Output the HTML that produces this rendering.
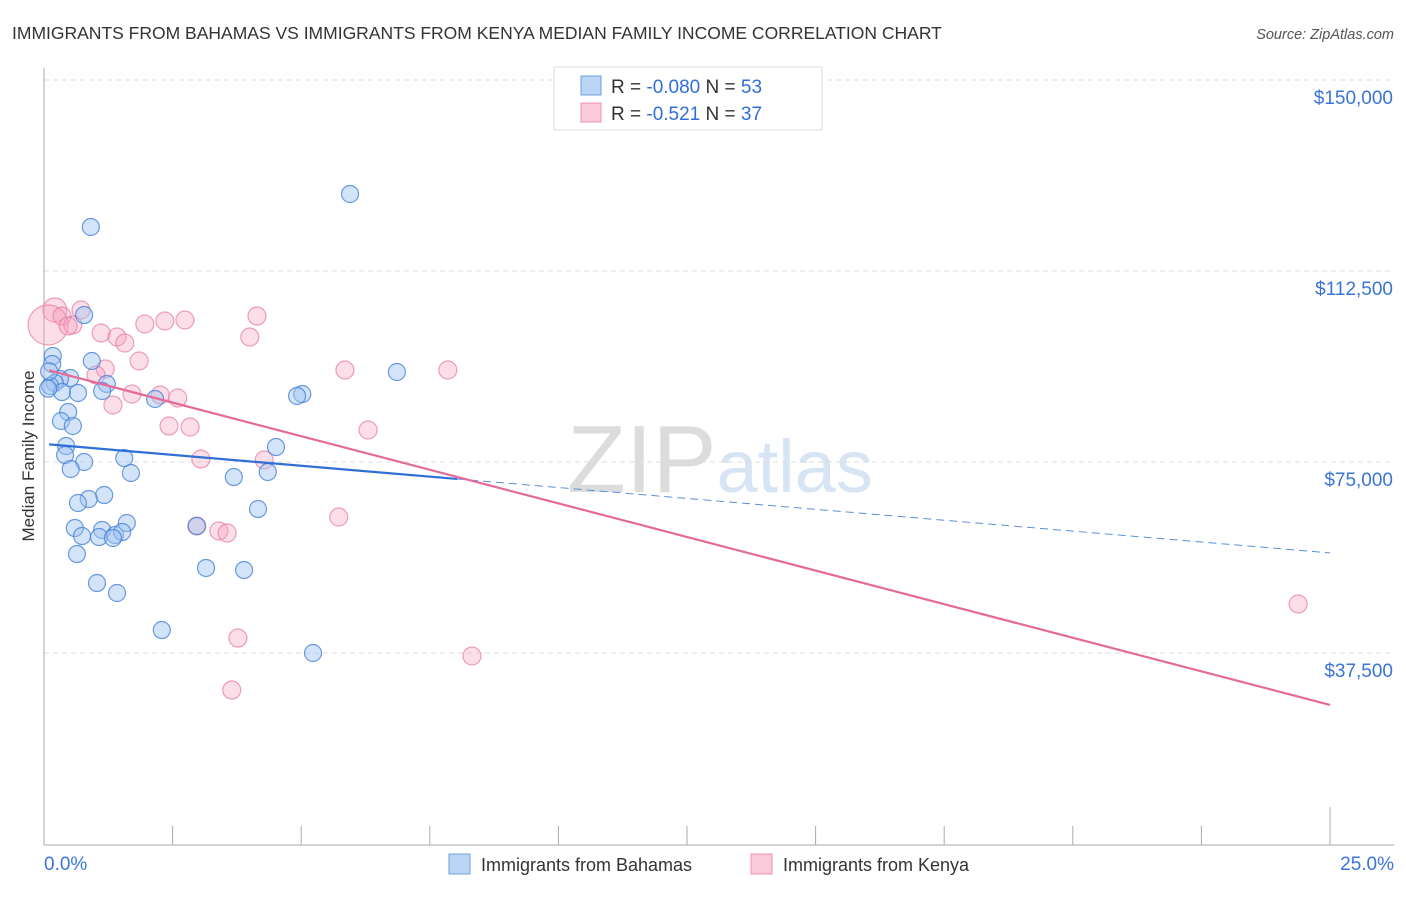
<!DOCTYPE html>
<html><head><meta charset="utf-8">
<style>
body{margin:0;background:#fff;font-family:"Liberation Sans",sans-serif;}
svg text{font-family:"Liberation Sans",sans-serif;}
</style></head>
<body>
<svg id="chart" width="1406" height="892" xmlns="http://www.w3.org/2000/svg">
<text x="12" y="39" font-size="17.5" fill="#333">IMMIGRANTS FROM BAHAMAS VS IMMIGRANTS FROM KENYA MEDIAN FAMILY INCOME CORRELATION CHART</text>
<text x="1394" y="39" font-size="14.5" fill="#555" font-style="italic" text-anchor="end">Source: ZipAtlas.com</text>
<text x="720" y="492" font-size="96" fill="#e4e4e4" text-anchor="middle" font-family="Liberation Serif"><tspan fill="#dcdcdc">ZIP</tspan><tspan fill="#d6e4f4" font-family="Liberation Sans" font-size="74">atlas</tspan></text>
<g id="grid"></g>
<g id="axes"></g>
<g id="points"></g>
<g id="trends"></g>
<text transform="translate(34,456) rotate(-90)" font-size="17" fill="#333" text-anchor="middle">Median Family Income</text>
<g>
<rect x="554" y="67" width="268" height="63" fill="#fff" stroke="#ddd"/>
<rect x="581" y="76" width="20" height="19" fill="#bcd5f5" stroke="#6d9fe0"/>
<rect x="581" y="103" width="20" height="19" fill="#fbcadb" stroke="#eb8fb0"/>
<text x="611" y="93" font-size="19" fill="#333">R = <tspan fill="#2f6fd6">-0.080</tspan>   N = <tspan fill="#2f6fd6">53</tspan></text>
<text x="611" y="120" font-size="19" fill="#333">R =  <tspan fill="#2f6fd6"> -0.521</tspan>   N = <tspan fill="#2f6fd6">37</tspan></text>
</g>
<g>
<rect x="449" y="854" width="21" height="20" fill="#bcd5f5" stroke="#6d9fe0"/>
<text x="481" y="871" font-size="18" fill="#333">Immigrants from Bahamas</text>
<rect x="751" y="854" width="21" height="20" fill="#fbcadb" stroke="#eb8fb0"/>
<text x="783" y="871" font-size="18" fill="#333">Immigrants from Kenya</text>
</g>
</svg>
<script>
const yTicks=[150000,112500,75000,37500];
const yTickLabels=["$150,000","$112,500","$75,000","$37,500"];
const xTickLabels=["0.0%","25.0%"];
const bahamasX=[0.91,5.95,0.78,0.17,0.93,0.16,6.86,0.51,0.31,0.21,1.22,0.12,0.35,0.66,1.13,5.02,4.92,2.16,0.47,0.33,0.56,4.51,0.43,0.41,1.56,0.78,0.52,1.69,4.35,3.69,1.17,0.87,0.66,4.16,1.61,0.60,1.13,2.97,0.74,1.07,1.38,1.52,1.34,0.64,3.15,3.89,1.03,1.42,2.29,5.23,0.10,0.08];
const bahamasY=[121140,127620,103860,95810,94830,94240,92670,91490,91300,90510,90320,89930,88740,88550,88940,88350,87960,87370,84810,83050,82070,77940,78140,76370,75780,75000,73630,72840,73040,72050,68520,67730,66950,65770,63020,62040,61650,62430,60470,60270,60670,61260,60080,56930,54190,53790,51240,49280,42010,37500,92800,89400];
const kenyaX=[0.21,0.08,0.72,0.35,0.56,0.47,1.11,1.42,1.57,1.96,2.35,2.74,4.14,4.00,1.85,1.19,1.01,5.85,7.85,2.26,1.71,2.60,1.34,2.43,2.84,6.30,3.05,4.28,2.97,3.40,3.56,5.73,3.77,8.32,3.65,24.38];
const kenyaY=[104840,101900,104840,103660,101900,101700,100330,99540,98360,102090,102680,102880,103660,99540,94830,93260,92080,93060,93060,88160,88350,87570,86190,82070,81870,81280,75590,75390,62430,61450,61060,64200,40440,36910,30230,47120];
const kenyaR=[12,20,9,9,9,9,9,9,9,9,9,9,9,9,9,9,9,9,9,9,9,9,9,9,9,9,9,9,9,9,9,9,9,9,9,9];
const bahamasTrend=[78540,57150]; const bahamasSolidEnd=8.03;
const kenyaTrend=[93260,27300];
const NS="http://www.w3.org/2000/svg";
const xs=p=>44+p/25*1286;
const ys=v=>80+(150000-v)/37500*191;
function mk(t,a,parent){const e=document.createElementNS(NS,t);for(const k in a)e.setAttribute(k,a[k]);document.getElementById(parent).appendChild(e);return e;}
yTicks.forEach((v,i)=>{
 const l=mk('line',{x1:44,x2:1394,y1:ys(v),y2:ys(v),stroke:'#ddd','stroke-dasharray':'5,4'},'grid');
 
 
 const t=mk('text',{x:1393,y:ys(v)+24,'font-size':19,fill:'#3a74d8','text-anchor':'end'},'axes');
 t.textContent=yTickLabels[i];
 
 
});
mk('line',{x1:44,x2:44,y1:68,y2:845,stroke:'#aaa'},'axes');
mk('line',{x1:44,x2:1394,y1:845,y2:845,stroke:'#aaa'},'axes');
for(let i=0;i<=10;i++){const x=xs(i*2.5);const tk=mk('line',{x1:x,x2:x,y1:i==10?807:826,y2:845,stroke:'#aaa'},'axes');
 
 }
[[44,'start'],[1394,'end']].forEach((a,i)=>{const t=mk('text',{x:a[0],y:870,'font-size':19,fill:'#3a74d8','text-anchor':a[1]},'axes');t.textContent=xTickLabels[i];
 
 });
kenyaX.forEach((p,i)=>{const c=mk('circle',{cx:xs(p),cy:ys(kenyaY[i]),r:kenyaR[i],fill:'rgba(245,160,190,0.35)',stroke:'rgba(230,120,160,0.7)','stroke-width':1.2},'points');
 
 });
bahamasX.forEach((p,i)=>{const c=mk('circle',{cx:xs(p),cy:ys(bahamasY[i]),r:8.5,fill:'rgba(160,195,240,0.45)',stroke:'rgba(70,130,215,0.8)','stroke-width':1.2},'points');
 
 });
const bAt=p=>bahamasTrend[0]+(bahamasTrend[1]-bahamasTrend[0])*p/25;
let l1=mk('line',{x1:xs(0.1),y1:ys(bAt(0.1)),x2:xs(bahamasSolidEnd),y2:ys(bAt(bahamasSolidEnd)),stroke:'#2f6fd6','stroke-width':2.2},'trends');


let l2=mk('line',{x1:xs(bahamasSolidEnd),y1:ys(bAt(bahamasSolidEnd)),x2:xs(25),y2:ys(bAt(25)),stroke:'#5a8fdc','stroke-width':1,'stroke-dasharray':'8,5'},'trends');


let l3=mk('line',{x1:xs(0.1),y1:ys(kenyaTrend[0]+(kenyaTrend[1]-kenyaTrend[0])*0.004),x2:xs(25),y2:ys(kenyaTrend[1]),stroke:'#e56a96','stroke-width':2.2},'trends');


</script>
</body></html>
